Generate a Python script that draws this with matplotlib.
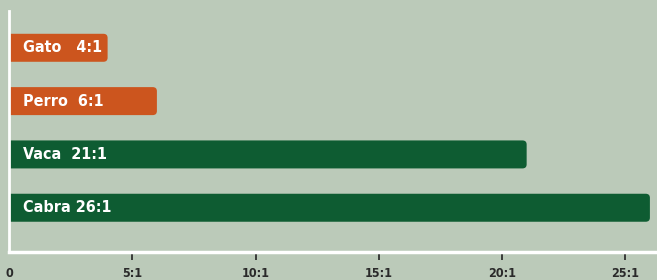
import matplotlib
matplotlib.use('Agg')
import matplotlib.pyplot as plt
from matplotlib.patches import FancyBboxPatch
from matplotlib import font_manager

# datos
animales = ['Gato', 'Perro', 'Vaca', 'Cabra']
proporcion = [4, 6, 21, 26]
etiquetas = ['Gato   4:1', 'Perro  6:1', 'Vaca  21:1', 'Cabra 26:1']
grupo = ['casa', 'casa', 'granja', 'granja']
ticks = [0, 5, 10, 15, 20, 25]
tick_labels = ['0', '5:1', '10:1', '15:1', '20:1', '25:1']

fondo = '#bbcab9'
colores = {'casa': '#cc551e', 'granja': '#0e5c32'}

nombres = {f.name for f in font_manager.fontManager.ttflist}
fuente = [n for n in ['Liberation Sans Narrow', 'DejaVu Sans Condensed'] if n in nombres] + ['DejaVu Sans']

fig = plt.figure(figsize=(6.57, 2.80), dpi=100, facecolor=fondo)
ax = fig.add_axes([9 / 657, 28 / 280, 648 / 657, 241 / 280], facecolor=fondo)

barras = ax.barh(range(len(animales)), proporcion, height=0.525,
                 color=[colores[g] for g in grupo])
# barras redondeadas a la derecha (la izquierda queda recortada por el eje)
for b in barras:
    x, y, w, h = b.get_x(), b.get_y(), b.get_width(), b.get_height()
    p = FancyBboxPatch((x - 1, y), w + 1, h,
                       boxstyle='round,pad=0,rounding_size=0.17',
                       mutation_aspect=0.45,
                       fc=b.get_facecolor(), ec='none', clip_on=True)
    b.remove()
    ax.add_patch(p)

for i, txt in enumerate(etiquetas):
    ax.text(0.55, i, txt, color='white', fontsize=11.5, fontweight='bold',
            family=fuente, fontstretch='condensed', va='center', ha='left')

ax.set_xlim(0, 648 / 24.65)
ax.set_ylim(3.83, -0.69)
ax.set_yticks([])
ax.set_xticks(ticks)
ax.set_xticklabels(tick_labels, fontsize=9, fontweight='bold',
                   family=fuente, fontstretch='condensed', color='#2a2a2a')
ax.tick_params(axis='x', direction='out', length=6, width=1.2,
               color='#222222', pad=5)
ax.xaxis.get_major_ticks()[0].tick1line.set_visible(False)

for s in ['top', 'right']:
    ax.spines[s].set_visible(False)
ax.spines['left'].set_color('white')
ax.spines['left'].set_linewidth(2)
ax.spines['bottom'].set_color('white')
ax.spines['bottom'].set_linewidth(2.5)

fig.savefig('out.png', dpi=100, facecolor=fondo)
